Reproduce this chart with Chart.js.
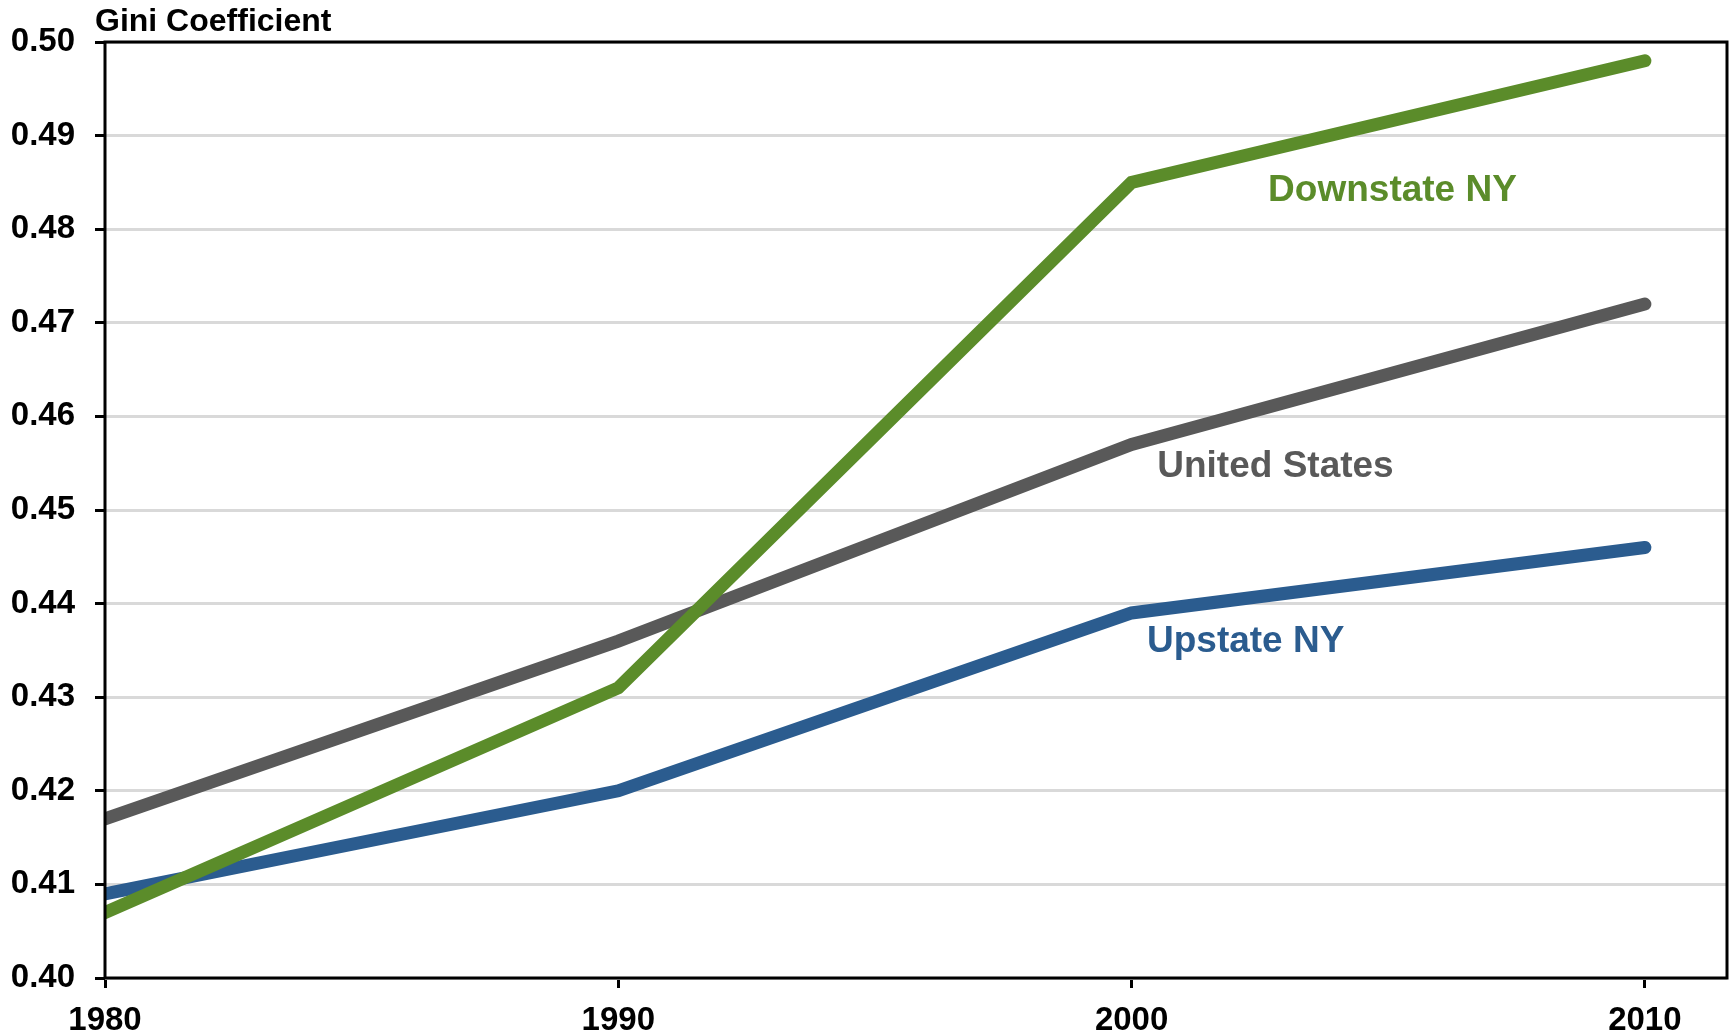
<!DOCTYPE html>
<html>
<head>
<meta charset="utf-8">
<title>Gini Coefficient</title>
<script src="https://cdn.jsdelivr.net/npm/chart.js@4"></script>
<style>
  html, body { margin: 0; padding: 0; background: #fff; }
  #wrap { width: 1729px; height: 1036px; position: relative; }
</style>
</head>
<body>
<div id="wrap"><canvas id="chartCanvas"></canvas></div>
<script>
// data
const years = [1980, 1990, 2000, 2010];
const downstateNY = [0.407, 0.431, 0.485, 0.498];
const unitedStates = [0.417, 0.436, 0.457, 0.472];
const upstateNY = [0.409, 0.420, 0.439, 0.446];
const yTicks = [0.40, 0.41, 0.42, 0.43, 0.44, 0.45, 0.46, 0.47, 0.48, 0.49, 0.50];

const FONT = '"Liberation Sans", Arial, Helvetica, sans-serif';
const GREEN = '#5b8c2a';
const GRAY = '#595959';
const BLUE = '#2b5c8f';

// inline series labels (anchored in data units)
const seriesLabels = [
  { text: 'Downstate NY', x: 2002.66, y: 0.4841, color: GREEN },
  { text: 'United States', x: 2000.5, y: 0.4546, color: GRAY },
  { text: 'Upstate NY', x: 2000.3, y: 0.4359, color: BLUE }
];

const toPoints = vals => vals.map((v, i) => ({ x: years[i], y: v }));

const extras = {
  id: 'extras',
  afterDraw(chart) {
    const { ctx, chartArea, scales } = chart;
    ctx.save();
    // frame round the plot
    ctx.strokeStyle = '#000';
    ctx.lineWidth = 3;
    ctx.strokeRect(chartArea.left, chartArea.top, chartArea.right - chartArea.left, chartArea.bottom - chartArea.top);
    // axis title
    ctx.fillStyle = '#000';
    ctx.font = 'bold 32px ' + FONT;
    ctx.textAlign = 'left';
    ctx.textBaseline = 'alphabetic';
    ctx.fillText('Gini Coefficient', chartArea.left - 10, chartArea.top - 11);
    // series labels
    ctx.font = 'bold 37px ' + FONT;
    ctx.textBaseline = 'middle';
    seriesLabels.forEach(l => {
      ctx.fillStyle = l.color;
      ctx.fillText(l.text, scales.x.getPixelForValue(l.x), scales.y.getPixelForValue(l.y));
    });
    ctx.restore();
  }
};

const lineStyle = color => ({
  borderColor: color,
  backgroundColor: color,
  borderWidth: 13,
  borderCapStyle: 'round',
  borderJoinStyle: 'miter',
  pointRadius: 0,
  tension: 0,
  fill: false
});

new Chart(document.getElementById('chartCanvas'), {
  type: 'line',
  data: {
    datasets: [
      { label: 'Downstate NY', data: toPoints(downstateNY), ...lineStyle(GREEN) },
      { label: 'United States', data: toPoints(unitedStates), ...lineStyle(GRAY) },
      { label: 'Upstate NY', data: toPoints(upstateNY), ...lineStyle(BLUE) }
    ]
  },
  options: {
    responsive: true,
    maintainAspectRatio: false,
    animation: false,
    layout: { padding: { top: 42, right: 2, left: 0, bottom: 0 } },
    plugins: { legend: { display: false }, tooltip: { enabled: false } },
    scales: {
      x: {
        type: 'linear',
        min: 1980,
        max: 2011.6,
        afterBuildTicks: scale => { scale.ticks = years.map(v => ({ value: v })); },
        afterFit: scale => { scale.height = 58; },
        border: { display: false },
        grid: { drawOnChartArea: false, tickColor: '#000', tickLength: 10, tickWidth: 3 },
        ticks: {
          color: '#000',
          font: { family: FONT, size: 33, weight: 'bold' },
          padding: 13,
          maxRotation: 0,
          callback: v => String(v)
        }
      },
      y: {
        min: 0.40,
        max: 0.50,
        afterBuildTicks: scale => { scale.ticks = yTicks.map(v => ({ value: v })); },
        afterFit: scale => { scale.width = 105; },
        border: { display: false },
        grid: { color: '#d9d9d9', lineWidth: 3, tickColor: '#000', tickLength: 10, tickWidth: 3 },
        ticks: {
          color: '#000',
          font: { family: FONT, size: 33, weight: 'bold' },
          padding: 20,
          callback: v => v.toFixed(2)
        }
      }
    }
  },
  plugins: [extras]
});
</script>
</body>
</html>
